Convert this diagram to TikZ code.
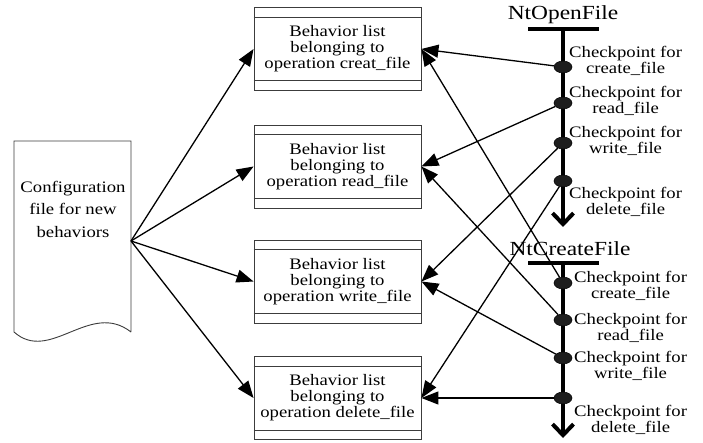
\documentclass[tikz,border=0pt]{standalone}
\usepackage{fontspec}
\setmainfont{Liberation Serif}[FakeStretch=1.17]
\usetikzlibrary{arrows.meta,shapes.geometric}
\definecolor{edge}{HTML}{3C3C3C}
\definecolor{dot}{HTML}{1E1E1E}

\begin{document}
\begin{tikzpicture}[x=1pt,y=-1pt,
  txt/.style={font=\fontsize{16}{16}\selectfont,align=center,inner sep=0pt},
  listbox/.style={txt,draw=edge,line width=.9pt,minimum width=167pt,minimum height=83pt},
  ckpt/.style={ellipse,fill=dot,draw=black,line width=.5pt,minimum width=18pt,minimum height=12pt,inner sep=0pt},
  ckptlbl/.style={txt,anchor=west},
  title/.style={font=\fontsize{20}{20}\selectfont,inner sep=0pt},
  timeline/.style={line width=4pt},
  feed/.style={line width=1.3pt,-{Triangle[length=17pt,width=13pt]}}]
\useasboundingbox (0,0) rectangle (703,443);
% configuration file (document shape)
\draw[edge,line width=.9pt] (131,332) -- (131,141) -- (14,141) -- (14,332)
  .. controls (50,364) and (90,300) .. (131,332);
\node[txt,font=\fontsize{16}{22.5}\selectfont] (conf) at (73,209) {Configuration\\file for new\\behaviors};
\coordinate (src) at (131,241);
% behavior lists
\foreach \i/\y/\op in {1/49/creat,2/166.5/read,3/281.5/write,4/398/delete}
  \node[listbox] (b\i) at (337.5,\y) {Behavior list\\belonging to\\operation \op\_file};
\foreach \b in {b1,b2,b3,b4}
  \draw[edge,line width=.9pt] ([yshift=-10pt]\b.north west) -- ([yshift=-10pt]\b.north east)
    ([yshift=10pt]\b.south west) -- ([yshift=10pt]\b.south east);
% NtOpenFile
\node[title] (open) at (563,15) {NtOpenFile};
\coordinate (otop) at (563,29); \coordinate (oend) at (563,227);
\draw[timeline] ([xshift=-35pt]otop) -- ([xshift=36pt]otop);
\draw[timeline,-{Straight Barb[length=11pt,width=21pt]}] (otop) -- (oend);
% NtCreateFile
\node[title] (create) at (570,249) {NtCreateFile};
\coordinate (ctop) at (563,263); \coordinate (cend) at (563,438);
\draw[timeline] ([xshift=-35pt]ctop) -- ([xshift=36pt]ctop);
\draw[timeline,-{Straight Barb[length=11pt,width=21pt]}] (ctop) -- (cend);
% checkpoints
\foreach \i/\y/\ly/\op in {1/67/61/create,2/103/101/read,3/143/141/write,4/181/202/delete}{
  \node[ckpt] (o\i) at (563,\y) {};
  \node[ckptlbl] (ol\i) at (569,\ly) {Checkpoint for\\\op\_file};}
\foreach \i/\y/\ly/\op in {1/283/286/create,2/320/328/read,3/358/366/write,4/398/420/delete}{
  \node[ckpt] (c\i) at (563,\y) {};
  \node[ckptlbl] (cl\i) at (574,\ly) {Checkpoint for\\\op\_file};}
% connectors
\foreach \i in {1,...,4}{
  \draw[feed] (src) -- (b\i.west);
  \draw[feed] (o\i) -- (b\i.east);
  \draw[feed] (c\i) -- (b\i.east);}
\end{tikzpicture}
\end{document}
